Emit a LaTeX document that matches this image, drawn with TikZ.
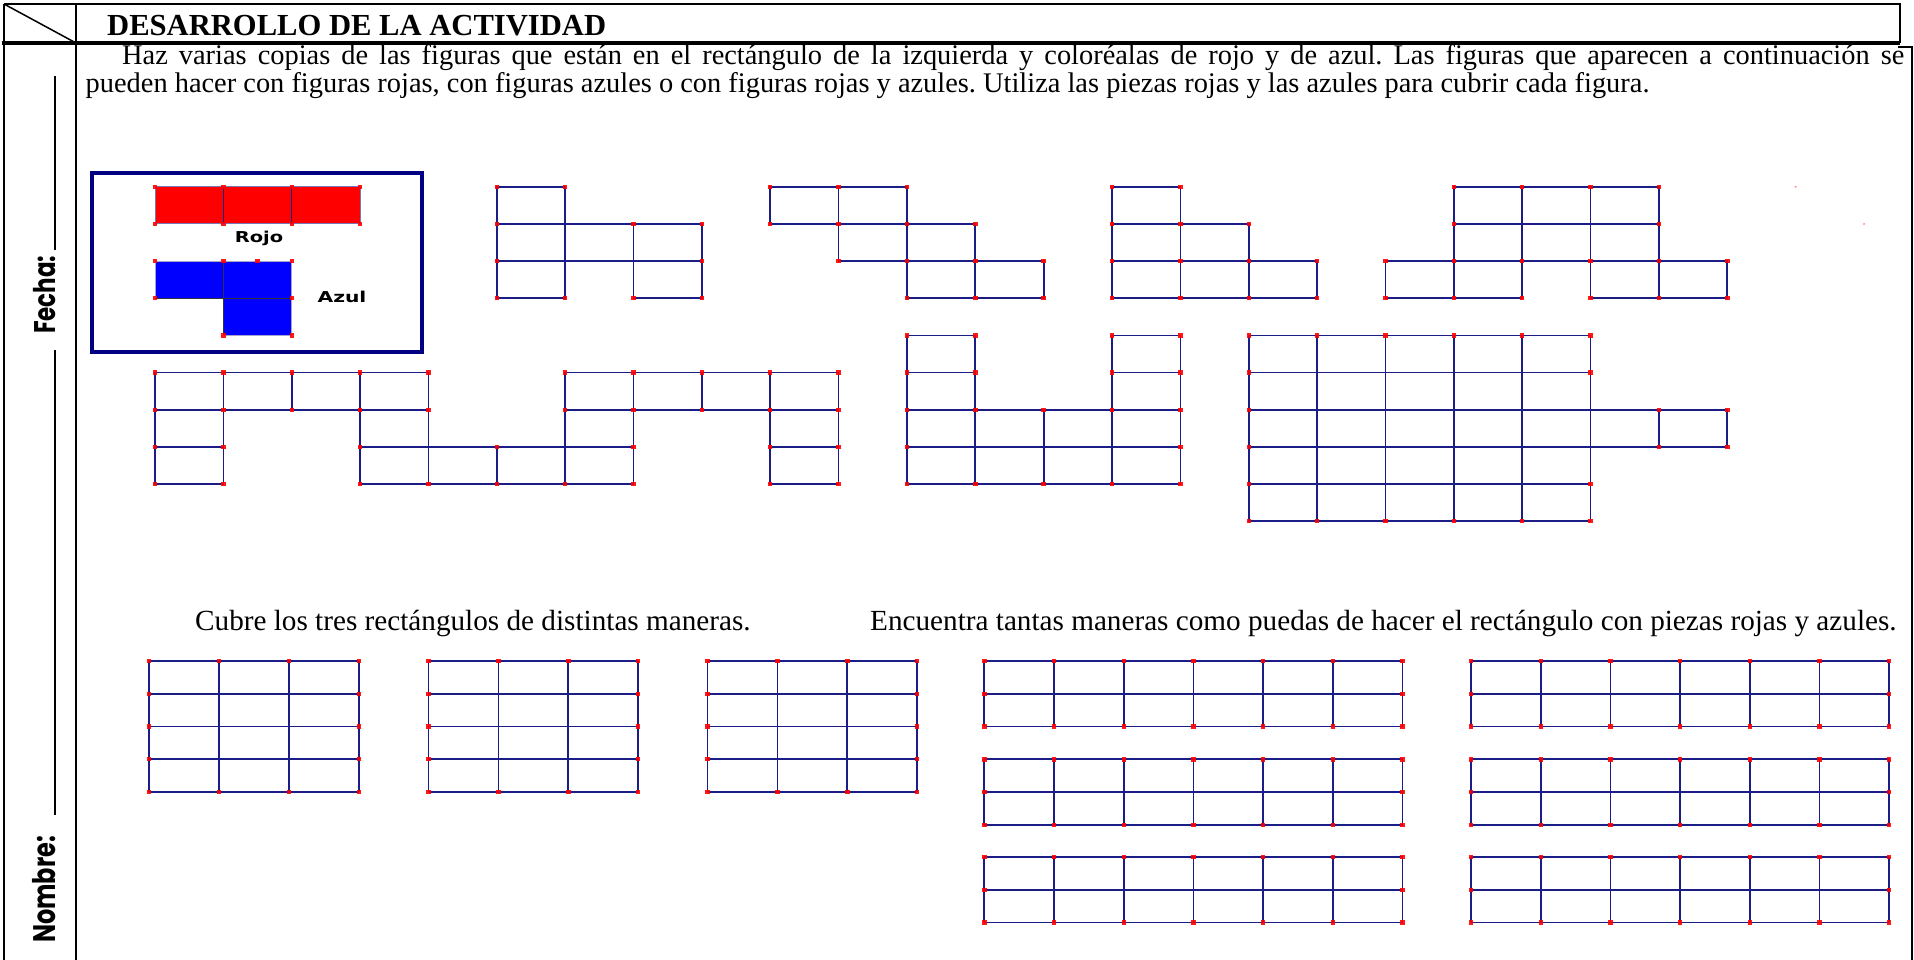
\documentclass[tikz,border=0pt]{standalone}
\usepackage{fontspec}
\setmainfont{Liberation Serif}
\newfontfamily\labelfont{DejaVu Sans}
\newfontfamily\namefont{Poppins}
\usepackage{tikz}
\usetikzlibrary{positioning,calc}
\definecolor{gridNavy}{RGB}{28,28,135}
\definecolor{boxNavy}{RGB}{0,0,128}
\definecolor{dotRed}{RGB}{255,0,0}
\definecolor{pieceRed}{RGB}{255,0,0}
\definecolor{pieceBlue}{RGB}{0,0,255}
\newcommand{\ptmark}[2]{\fill[reddot] (#1,#2) ++(-2.2pt,-2.2pt) rectangle ++(4.4pt,4.4pt);}
\frenchspacing

\begin{document}
\begin{tikzpicture}[x=1pt,y=-1pt,
    frame/.style={line width=2.5pt,black},
    gridline/.style={line width=1.7pt,gridNavy},
    reddot/.style={fill=dotRed,opacity=0.9},
    bodytext/.style={font=\fontsize{28.4}{30}\selectfont,inner sep=0pt},
    tasktext/.style={font=\fontsize{29.2}{30}\selectfont,inner sep=0pt},
    piecelabel/.style={font=\labelfont\bfseries\fontsize{15}{16}\selectfont,inner sep=0pt},
    sidelabel/.style={font=\namefont\bfseries\fontsize{23}{24}\selectfont,inner sep=0pt,rotate=90,anchor=base west}]
  \useasboundingbox (0,0) rectangle (1914,960);

  % Header and frame
  \draw[frame] (4,4) -- (1900,4) -- (1900,43);
  \draw[frame] (4,4) -- (4,962);
  \draw[line width=3.5pt] (2,43) -- (1900,43);
  \draw[frame] (76,4) -- (76,43);
  \draw[line width=1.5pt] (4,4) -- (76,43);
  \draw[frame] (1898,47) -- (1912,47) -- (1912,962);
  \draw[line width=1.8pt] (76,44) -- (76,962);
  \node[anchor=base west,inner sep=0pt,font=\fontsize{30.6}{32}\selectfont\bfseries] (title) at (107,35.5) {DESARROLLO DE LA ACTIVIDAD};

  % Side column
  \node[sidelabel] (fecha) at (55,334) {\scalebox{1}[1.3]{Fecha:}};
  \node[sidelabel] (nombre) at (55,943) {\scalebox{1}[1.3]{\fontsize{24}{24}\selectfont Nombre:}};
  \draw[line width=1.2pt] (55,250) -- (55,76);
  \draw[line width=1.2pt] (55,815) -- (55,350);

  % Instructions
  \node[bodytext,anchor=base west] (introA) at (122,64.5)
    {\makebox[1782pt][s]{Haz varias copias de las figuras que están en el rectángulo de la izquierda y coloréalas de rojo y de azul. Las figuras que aparecen a continuación se}};
  \node[bodytext,anchor=base west] (introB) at (85.5,92.5)
    {pueden hacer con figuras rojas, con figuras azules o con figuras rojas y azules. Utiliza las piezas rojas y las azules para cubrir cada figura.};

  % Legend box
  \draw[line width=4pt,boxNavy] (91.6,173.3) rectangle (422.4,351.6);
  \node[piecelabel] (rojo) at (259,238) {\scalebox{1.3}[1]{Rojo}};
  \node[piecelabel] (azul) at (342,297) {\scalebox{1.35}[1]{Azul}};

  % Figures on the grid
  \begin{scope}[shift={(155,186.8)},x=68.36pt,y=-37.16pt]
    % Red piece
    \fill[pieceRed] (0,0) rectangle (3,1);
    \draw[gridNavy!60,line width=1pt] (0,0) rectangle (3,1);
    \draw[gridNavy,line width=1.5pt] (1,0) -- (1,1) (2,0) -- (2,1);
    \foreach \c/\r in {0/0,1/0,2/0,3/0,0/1,1/1,2/1,3/1} {\ptmark{\c}{\r}}
    % Blue piece
    \fill[pieceBlue] (0,2) -- (2,2) -- (2,4) -- (1,4) -- (1,3) -- (0,3) -- cycle;
    \draw[gridNavy!40,line width=0.8pt] (0,2) -- (2,2) -- (2,4) -- (1,4) -- (1,3) -- (0,3) -- cycle;
    \draw[black!80,line width=0.8pt] (1,2) -- (1,4) (0,3) -- (2,3);
    \foreach \c/\r in {0/2,1/2,1.5/2,2/2,0/3,2/3,1/4,2/4} {\ptmark{\c}{\r}}

    % Row 1 figures
    \foreach \c/\r in {5/0,5/1,6/1,7/1,5/2,7/2} {\draw[gridline] (\c,\r) rectangle ++(1,1);}
    \foreach \c/\r in {5/0,6/0,5/1,7/1,8/1,5/2,8/2,5/3,6/3,7/3,8/3} {\ptmark{\c}{\r}}
    \foreach \c/\r in {9/0,10/0,10/1,11/1,11/2,12/2} {\draw[gridline] (\c,\r) rectangle ++(1,1);}
    \foreach \c/\r in {9/0,10/0,11/0,9/1,10/1,11/1,12/1,10/2,11/2,12/2,13/2,11/3,12/3,13/3} {\ptmark{\c}{\r}}
    \foreach \c/\r in {14/0,14/1,15/1,14/2,15/2,16/2} {\draw[gridline] (\c,\r) rectangle ++(1,1);}
    \foreach \c/\r in {14/0,15/0,14/1,15/1,16/1,14/2,15/2,16/2,17/2,14/3,15/3,16/3,17/3} {\ptmark{\c}{\r}}
    \foreach \c/\r in {19/0,20/0,21/0,19/1,20/1,21/1,18/2,19/2,21/2,22/2} {\draw[gridline] (\c,\r) rectangle ++(1,1);}
    \foreach \c/\r in {19/0,20/0,21/0,22/0,19/1,22/1,18/2,19/2,20/2,21/2,22/2,23/2,18/3,19/3,20/3,21/3,22/3,23/3} {\ptmark{\c}{\r}}
    \fill[dotRed,opacity=0.4] (24,0) circle (1.2pt) (25,1) circle (1.2pt);

    % Row 2 figures
    \foreach \c/\r in {0/5,1/5,2/5,3/5,6/5,7/5,8/5,9/5,0/6,3/6,6/6,9/6,0/7,3/7,4/7,5/7,6/7,9/7} {\draw[gridline] (\c,\r) rectangle ++(1,1);}
    \foreach \c/\r in {0/5,1/5,2/5,3/5,4/5,6/5,7/5,8/5,9/5,10/5,0/6,1/6,2/6,3/6,4/6,6/6,7/6,8/6,9/6,10/6,
      0/7,1/7,3/7,5/7,7/7,9/7,10/7,0/8,1/8,3/8,4/8,5/8,6/8,7/8,9/8,10/8} {\ptmark{\c}{\r}}
    \foreach \c/\r in {11/4,14/4,11/5,14/5,11/6,12/6,13/6,14/6,11/7,12/7,13/7,14/7} {\draw[gridline] (\c,\r) rectangle ++(1,1);}
    \foreach \c/\r in {11/4,12/4,14/4,15/4,11/5,12/5,14/5,15/5,11/6,12/6,13/6,14/6,15/6,11/7,15/7,11/8,12/8,13/8,14/8,15/8} {\ptmark{\c}{\r}}
    \foreach \c in {16,...,20} {\foreach \r in {4,...,8} {\draw[gridline] (\c,\r) rectangle ++(1,1);}}
    \draw[gridline] (21,6) rectangle (22,7) (22,6) rectangle (23,7);
    \foreach \c/\r in {16/4,17/4,18/4,19/4,20/4,21/4,16/5,21/5,16/6,22/6,23/6,16/7,22/7,23/7,16/8,21/8,16/9,17/9,18/9,19/9,20/9,21/9} {\ptmark{\c}{\r}}
  \end{scope}

  % Bottom tasks
  \node[tasktext,anchor=base west] (taskA) at (195,630) {Cubre los tres rectángulos de distintas maneras.};
  \node[tasktext,anchor=base west] (taskB) at (870,630) {Encuentra tantas maneras como puedas de hacer el rectángulo con piezas rojas y azules.};

  % Three 3x4 rectangles
  \foreach \xo in {149,428.5,707.5} {
    \begin{scope}[shift={(\xo,661)},x=69.9pt,y=-32.7pt]
      \foreach \c in {0,...,3} {\draw[gridline] (\c,0) -- (\c,4);}
      \foreach \r in {0,...,4} {\draw[gridline] (0,\r) -- (3,\r);}
      \foreach \c in {0,...,3} {\ptmark{\c}{0} \ptmark{\c}{4}}
      \foreach \r in {1,2,3} {\ptmark{0}{\r} \ptmark{3}{\r}}
    \end{scope}
  }

  % Six 6x2 rectangles
  \foreach \xo in {984.3,1471} {
    \foreach \yo in {661,759.3,857} {
      \begin{scope}[shift={(\xo,\yo)},x=69.7pt,y=-32.7pt]
        \foreach \c in {0,...,6} {\draw[gridline] (\c,0) -- (\c,2);}
        \foreach \r in {0,1,2} {\draw[gridline] (0,\r) -- (6,\r);}
        \foreach \c in {0,...,6} {\ptmark{\c}{0} \ptmark{\c}{2}}
        \ptmark{0}{1} \ptmark{6}{1}
      \end{scope}
    }
  }
\end{tikzpicture}
\end{document}
